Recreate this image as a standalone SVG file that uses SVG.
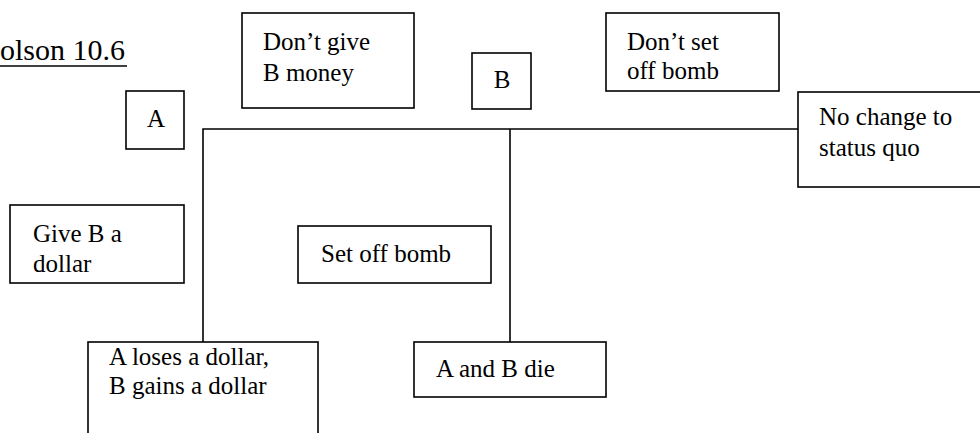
<svg xmlns="http://www.w3.org/2000/svg" width="980" height="433" viewBox="0 0 980 433">
<style>
.box{fill:#fff;stroke:#000;stroke-width:1.6}
.ln{fill:none;stroke:#000;stroke-width:1.6}
text{font-family:"Liberation Serif","Times New Roman",serif;font-size:25px;fill:#000}
.title{font-size:30px}
</style>
<rect width="980" height="433" fill="#fff"/>
<g id="title"><text class="title" x="0" y="60">olson 10.6</text><line x1="0" y1="66" x2="127" y2="66" stroke="#000" stroke-width="1.6"/></g>
<g id="connectors">
<path class="ln" d="M203 342 V129 H798"/>
<path class="ln" d="M510 129 V342"/>
</g>
<g id="nodeA"><rect class="box" x="126" y="91" width="58" height="58"/><text x="156" y="127" text-anchor="middle">A</text></g>
<g id="dontGive"><rect class="box" x="242" y="13" width="172" height="95"/><text x="263" y="50">Don’t give</text><text x="263" y="81">B money</text></g>
<g id="nodeB"><rect class="box" x="472" y="53" width="59" height="56"/><text x="502" y="88" text-anchor="middle">B</text></g>
<g id="dontSet"><rect class="box" x="606" y="13" width="173" height="78"/><text x="627" y="50">Don’t set</text><text x="627" y="79">off bomb</text></g>
<g id="noChange"><rect class="box" x="798" y="92" width="190" height="95"/><text x="819" y="125">No change to</text><text x="819" y="156">status quo</text></g>
<g id="giveB"><rect class="box" x="10" y="205" width="174" height="78"/><text x="33" y="242">Give B a</text><text x="33" y="272">dollar</text></g>
<g id="setOff"><rect class="box" x="298" y="226" width="193" height="57"/><text x="321" y="262">Set off bomb</text></g>
<g id="aLoses"><rect class="box" x="88" y="342" width="230" height="110"/><text x="109" y="365">A loses a dollar,</text><text x="109" y="394">B gains a dollar</text></g>
<g id="abDie"><rect class="box" x="414" y="342" width="192" height="55"/><text x="436" y="377">A and B die</text></g>
</svg>
